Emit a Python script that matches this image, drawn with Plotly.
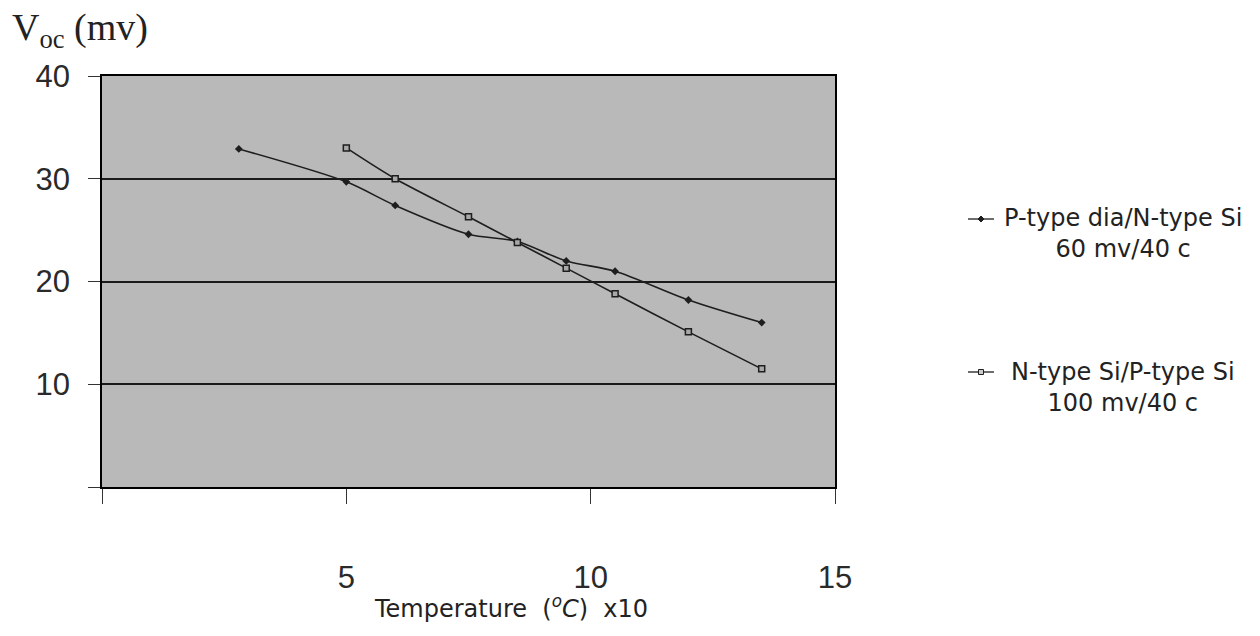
import plotly.graph_objects as go

# Temperature (x10 °C) and open-circuit voltage (mV) for the two junctions
temp_pdia = [2.8, 5.0, 6.0, 7.5, 8.5, 9.5, 10.5, 12.0, 13.5]
voc_pdia = [32.9, 29.7, 27.4, 24.6, 23.9, 22.0, 21.0, 18.2, 16.0]

temp_nsi = [5.0, 6.0, 7.5, 8.5, 9.5, 10.5, 12.0, 13.5]
voc_nsi = [33.0, 30.0, 26.3, 23.8, 21.3, 18.8, 15.1, 11.5]

x_ticks = [5, 10, 15]
x_labels = ["5", "10", "15"]
y_ticks = [10, 20, 30, 40]
y_labels = ["10", "20", "30", "40"]

legend_pdia = "P-type dia/N-type Si<br>60 mv/40 c"
legend_nsi = "N-type Si/P-type Si<br>100 mv/40 c"

LINE = "#1e1e1e"
W, H = 1260, 636
L, R, T, B = 102, 425, 76, 149

fig = go.Figure()
fig.add_trace(go.Scatter(
    x=temp_pdia, y=voc_pdia, mode="lines+markers",
    line=dict(color=LINE, width=1.6, shape="spline", smoothing=0.8),
    marker=dict(symbol="diamond", size=6, color=LINE),
    showlegend=False,
))
fig.add_trace(go.Scatter(
    x=temp_nsi, y=voc_nsi, mode="lines+markers",
    line=dict(color=LINE, width=1.6, shape="spline", smoothing=0.8),
    marker=dict(symbol="square", size=6, color="#a8a8a8",
                line=dict(color=LINE, width=1.5)),
    showlegend=False,
))

fig.update_xaxes(
    range=[0, 15], tickvals=x_ticks, ticktext=x_labels,
    showgrid=False, zeroline=False,
    showline=True, linecolor="black", linewidth=1.5, mirror=True,
    ticks="outside", ticklen=15, tickcolor="#333", tickwidth=1,
    minor=dict(tickvals=[0], ticks="outside", ticklen=15,
               tickcolor="#333", tickwidth=1, showgrid=False),
    ticklabelstandoff=47,
    tickfont=dict(family="Liberation Sans, Arial", size=31, color="#2a2a2a"),
)
fig.update_yaxes(
    range=[0, 40], tickvals=y_ticks, ticktext=y_labels,
    showgrid=True, gridcolor="#1a1a1a", gridwidth=1.5, zeroline=False,
    showline=True, linecolor="black", linewidth=1.5, mirror=True,
    ticks="outside", ticklen=12, tickcolor="#333", tickwidth=1,
    minor=dict(tickvals=[0], ticks="outside", ticklen=12,
               tickcolor="#333", tickwidth=1, showgrid=False),
    ticklabelstandoff=12,
    tickfont=dict(family="Liberation Sans, Arial", size=31, color="#2a2a2a"),
)


def px(x):
    return (x - L) / (W - L - R)


def py(y):
    return (H - B - y) / (H - T - B)


def note(text, x, y, size, family, xanchor="center", align="center"):
    return dict(text=text, xref="paper", yref="paper", x=px(x), y=py(y),
                xanchor=xanchor, yanchor="middle", align=align,
                showarrow=False,
                font=dict(family=family, size=size, color="#222"))


SANS = "DejaVu Sans, Verdana"
annotations = [
    note("V<sub>oc</sub> (mv)", 10, 30, 38,
         "Liberation Serif, Times New Roman", xanchor="left", align="left"),
    note("Temperature  (<i><sup>o</sup>C</i>)  x10", 511, 607, 24, SANS),
    note(legend_pdia, 1123, 233, 24, SANS),
    note(legend_nsi, 1123, 387, 24, SANS),
]

shapes = [
    # legend keys
    dict(type="line", xref="paper", yref="paper", x0=px(968), x1=px(994),
         y0=py(219), y1=py(219), line=dict(color=LINE, width=1.3)),
    dict(type="path", xref="paper", yref="paper",
         path=f"M {px(978)},{py(219)} L {px(981)},{py(216)} L {px(984)},{py(219)} L {px(981)},{py(222)} Z",
         fillcolor=LINE, line=dict(color=LINE, width=1)),
    dict(type="line", xref="paper", yref="paper", x0=px(968), x1=px(994),
         y0=py(372), y1=py(372), line=dict(color=LINE, width=1.3)),
    dict(type="rect", xref="paper", yref="paper", x0=px(978.5), x1=px(983.5),
         y0=py(374.5), y1=py(369.5), fillcolor="#cccccc",
         line=dict(color=LINE, width=1)),
]

fig.update_layout(
    width=W, height=H,
    margin=dict(l=L, r=R, t=T, b=B),
    paper_bgcolor="white",
    plot_bgcolor="#b9b9b9",
    annotations=annotations,
    shapes=shapes,
)

fig.write_html("out.html")
